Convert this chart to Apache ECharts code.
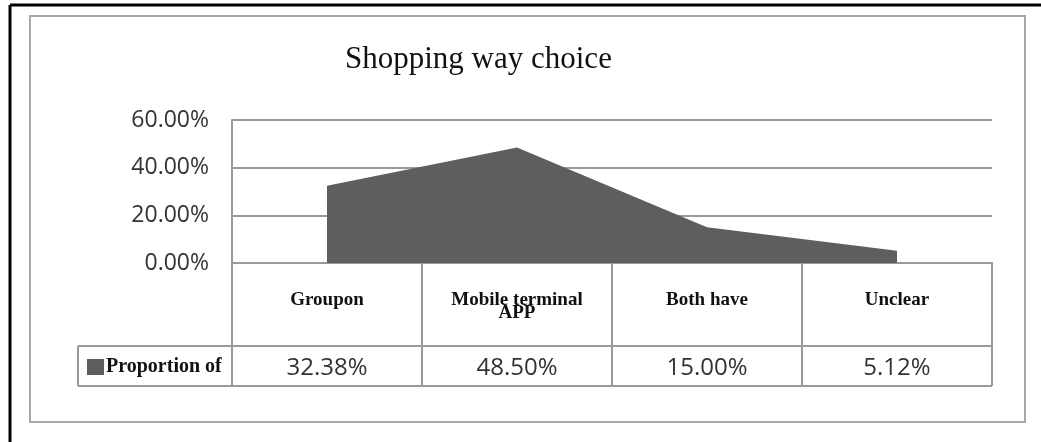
<!DOCTYPE html>
<html>
<head>
<meta charset="utf-8">
<script src="https://cdn.jsdelivr.net/npm/echarts@6/dist/echarts.min.js"></script>
<style>
  html, body { margin: 0; padding: 0; background: #fff; }
  #chart { width: 1041px; height: 442px; }
</style>
</head>
<body>
<div id="chart"></div>
<script>
// Survey: how respondents choose to shop
const categories = ['Groupon', 'Mobile terminal\nAPP', 'Both have', 'Unclear'];
const proportions = [32.38, 48.50, 15.00, 5.12];
const seriesName = 'Proportion of';
const yTicks = [0, 20, 40, 60];

// Plot frame (pixels)
const plotLeft = 232, plotRight = 992, plotTop = 120, plotBottom = 263;
const tableRowTop = 346, tableBottom = 386, legendCellLeft = 78;

const serif = '"Liberation Serif", "Times New Roman", serif';
const sans = '"Open Sans", Roboto, sans-serif';
const lineGray = '#9a9a9a';
const areaGray = '#5e5e5e';

const chart = echarts.init(document.getElementById('chart'), null, { renderer: 'canvas' });

chart.setOption({
  animation: false,
  backgroundColor: '#fff',
  title: {
    text: 'Shopping way choice',
    left: 340,
    top: 39,
    textStyle: { fontFamily: serif, fontSize: 31, fontWeight: 'normal', color: '#111' }
  },
  legend: {
    data: [seriesName],
    left: 87,
    top: 357,
    icon: 'rect',
    itemWidth: 17,
    itemHeight: 16,
    itemGap: 0,
    padding: 0,
    textStyle: { fontFamily: serif, fontSize: 20, fontWeight: 'bold', color: '#111', padding: [0, 0, 0, -3] }
  },
  grid: {
    left: plotLeft,
    right: 1041 - plotRight,
    top: plotTop,
    bottom: 442 - plotBottom,
    containLabel: false
  },
  xAxis: [
    {
      type: 'category',
      data: categories,
      boundaryGap: true,
      position: 'bottom',
      axisLine: { show: true, lineStyle: { color: lineGray, width: 2 } },
      axisTick: { show: true, length: tableBottom - plotBottom, lineStyle: { color: lineGray, width: 2 } },
      axisLabel: {
        interval: 0,
        margin: 31,
        fontFamily: serif,
        fontSize: 19,
        fontWeight: 'bold',
        lineHeight: 13,
        color: '#111',
        verticalAlign: 'top'
      }
    },
    {
      // values row of the data table
      type: 'category',
      data: proportions.map(v => v.toFixed(2) + '%'),
      boundaryGap: true,
      position: 'bottom',
      axisLine: { show: false },
      axisTick: { show: false },
      axisLabel: {
        interval: 0,
        margin: 92,
        fontFamily: sans,
        fontSize: 24,
        lineHeight: 26,
        color: '#333',
        verticalAlign: 'top'
      }
    }
  ],
  yAxis: {
    type: 'value',
    min: yTicks[0],
    max: yTicks[yTicks.length - 1],
    interval: yTicks[1] - yTicks[0],
    axisLine: { show: true, lineStyle: { color: lineGray, width: 2 } },
    axisTick: { show: false },
    splitLine: { show: true, lineStyle: { color: lineGray, width: 2 } },
    axisLabel: {
      margin: 23,
      fontFamily: sans,
      fontSize: 23,
      color: '#333',
      padding: [6, 0, 0, 0],
      formatter: v => v.toFixed(2) + '%'
    }
  },
  series: [
    {
      name: seriesName,
      type: 'line',
      xAxisIndex: 0,
      data: proportions,
      symbol: 'none',
      itemStyle: { color: areaGray },
      lineStyle: { width: 0, color: areaGray },
      areaStyle: { color: areaGray, opacity: 1 }
    }
  ],
  graphic: [
    // outer frame
    { type: 'line', shape: { x1: 10, y1: 5, x2: 1041, y2: 5 }, style: { stroke: '#000', lineWidth: 3 } },
    { type: 'line', shape: { x1: 10, y1: 5, x2: 10, y2: 442 }, style: { stroke: '#000', lineWidth: 3 } },
    { type: 'rect', shape: { x: 30, y: 16, width: 995, height: 406 }, style: { fill: 'none', stroke: '#a8a8a8', lineWidth: 2 } },
    // data table rules
    { type: 'line', shape: { x1: legendCellLeft, y1: tableRowTop, x2: plotRight, y2: tableRowTop }, style: { stroke: lineGray, lineWidth: 2 } },
    { type: 'line', shape: { x1: legendCellLeft, y1: tableBottom, x2: plotRight, y2: tableBottom }, style: { stroke: lineGray, lineWidth: 2 } },
    { type: 'line', shape: { x1: legendCellLeft, y1: tableRowTop, x2: legendCellLeft, y2: tableBottom }, style: { stroke: lineGray, lineWidth: 2 } },
    { type: 'line', shape: { x1: plotLeft, y1: plotBottom, x2: plotLeft, y2: tableBottom }, style: { stroke: lineGray, lineWidth: 2 } }
  ]
});
</script>
</body>
</html>
